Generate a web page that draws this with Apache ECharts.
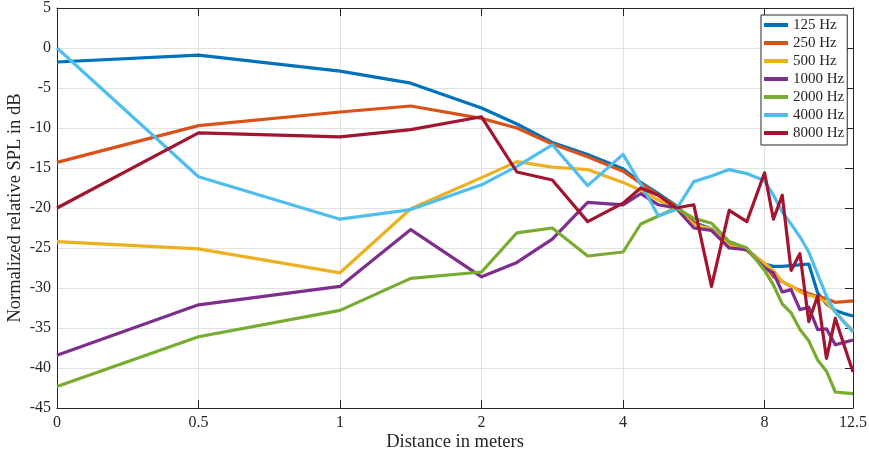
<!DOCTYPE html>
<html>
<head>
<meta charset="utf-8">
<script src="https://cdn.jsdelivr.net/npm/echarts@6/dist/echarts.min.js"></script>
<style>
html,body{margin:0;padding:0;background:#fff;}
#chart{width:869px;height:458px;}
</style>
</head>
<body>
<div id="chart"></div>
<script>
// Distances (m) of measurement points
const distances = [0, 0.5, 1, 1.5, 2, 2.5, 3, 3.5, 4, 4.5, 5, 5.5, 6, 6.5, 7, 7.5, 8,
  8.5, 9, 9.5, 10, 10.5, 11, 11.5, 12, 12.5, 13];

// Tick labels on the octave-like distance axis
const xTickLabels = ['0', '0.5', '1', '2', '4', '8', '12.5'];
const xTickDistances = [0, 0.5, 1, 2, 4, 8, 13];

const seriesNames = ['125 Hz', '250 Hz', '500 Hz', '1000 Hz', '2000 Hz', '4000 Hz', '8000 Hz'];

const spl125 = [-1.75, -0.9, -2.9, -4.4, -7.5, -9.5, -11.8, -13.3, -15.1, -16.8, -18.2, -19.7, -21.8, -22.6, -24.5, -25.2, -27.0,
  -27.3, -27.3, -27.2, -27.1, -27.0, -30.6, -32.0, -32.8, -33.2, -33.5];
const spl250 = [-14.3, -9.7, -8.0, -7.25, -8.8, -10.0, -12.0, -13.6, -15.4, -16.9, -18.4, -19.8, -21.9, -22.8, -24.6, -25.3, -27.0,
  -28.6, -29.2, -29.8, -30.3, -30.7, -31.1, -31.3, -31.8, -31.7, -31.6];
const spl500 = [-24.2, -25.1, -28.1, -20.1, -16.2, -14.2, -14.9, -15.2, -16.8, -17.8, -19.0, -20.1, -22.1, -22.6, -24.7, -25.3, -26.9,
  -27.8, -29.2, -29.7, -30.5, -30.9, -31.2, -31.8, -33.0, -34.2, -35.3];
const spl1000 = [-38.4, -32.1, -29.8, -22.7, -28.6, -26.8, -23.9, -19.3, -19.6, -18.2, -19.6, -20.0, -22.5, -22.8, -25.0, -25.2, -27.5,
  -28.1, -30.5, -30.2, -32.7, -32.4, -35.2, -35.1, -37.1, -36.8, -36.5];
const spl2000 = [-42.3, -36.1, -32.8, -28.8, -28.0, -23.1, -22.5, -26.0, -25.5, -22.0, -21.0, -20.0, -21.3, -21.9, -24.2, -25.0, -27.8,
  -29.6, -32.0, -33.1, -35.2, -36.6, -39.0, -40.4, -43.0, -43.1, -43.2];
const spl4000 = [0, -16.1, -21.4, -20.2, -17.1, -14.8, -12.1, -17.2, -13.3, -17.0, -21.0, -20.2, -16.7, -16.0, -15.2, -15.7, -16.6,
  -18.4, -20.5, -22.0, -23.6, -25.5, -28.3, -31.0, -33.0, -34.3, -35.5];
const spl8000 = [-20.0, -10.6, -11.1, -10.2, -8.6, -15.5, -16.5, -21.7, -19.4, -17.5, -18.4, -20.0, -19.6, -29.8, -20.3, -21.7, -15.6,
  -21.4, -18.4, -27.8, -25.7, -34.2, -31.0, -38.8, -33.8, -37.2, -40.5];

const allSeries = [spl125, spl250, spl500, spl1000, spl2000, spl4000, spl8000];
const colors = ['#0072BD', '#D95319', '#EDB120', '#7E2F8E', '#77AC30', '#4DBEEE', '#A2142F'];

// Axis scale: linear within each octave (0..0.5..1 then 1..2..4..8..16)
function axisPos(d) {
  if (d <= 1) return 2 * d;
  const k = Math.floor(Math.log2(d));
  const base = Math.pow(2, k);
  return k + 2 + (d - base) / base;
}
const tickPos = xTickDistances.map(axisPos);
const xMax = axisPos(13);

function labelFor(v) {
  for (let i = 0; i < tickPos.length; i++) {
    if (Math.abs(tickPos[i] - v) < 1e-6) return xTickLabels[i];
  }
  return '';
}

const FONT = 'Liberation Serif';
const INK = '#262626';
const GRID = '#e2e2e2';

const chart = echarts.init(document.getElementById('chart'), null, {renderer: 'canvas'});

const option = {
  animation: false,
  backgroundColor: '#fff',
  color: colors,
  grid: {left: 57, right: 16, top: 8, bottom: 50, containLabel: false, outerBoundsMode: 'none'},
  legend: {
    orient: 'vertical',
    left: 761,
    top: 15,
    padding: [1, 3, 3, 3],
    backgroundColor: '#fff',
    borderColor: INK,
    borderWidth: 1,
    borderRadius: 0,
    itemWidth: 24,
    itemHeight: 4,
    itemGap: 0,
    icon: 'rect',
    data: seriesNames,
    textStyle: {fontFamily: FONT, fontSize: 15, color: INK, lineHeight: 18, width: 50}
  },
  xAxis: [{
    type: 'value',
    min: 0,
    max: xMax,
    interval: 1,
    position: 'bottom',
    name: 'Distance in meters',
    nameLocation: 'middle',
    nameGap: 25,
    nameMoveOverlap: false,
    nameTextStyle: {fontFamily: FONT, fontSize: 18.5, color: INK},
    axisLine: {show: true, onZero: false, lineStyle: {color: INK, width: 1}},
    axisTick: {show: true, inside: true, length: 8, lineStyle: {color: INK}},
    axisLabel: {fontFamily: FONT, fontSize: 16, color: INK, margin: 7, formatter: labelFor, showMaxLabel: true},
    splitLine: {show: true, lineStyle: {color: GRID, width: 1}}
  }, {
    type: 'value',
    min: 0,
    max: xMax,
    interval: 1,
    position: 'top',
    axisLine: {show: true, onZero: false, lineStyle: {color: INK, width: 1}},
    axisTick: {show: true, inside: true, length: 8, lineStyle: {color: INK}},
    axisLabel: {show: false},
    splitLine: {show: false}
  }],
  yAxis: [{
    type: 'value',
    min: -45,
    max: 5,
    interval: 5,
    position: 'left',
    name: 'Normalized relative SPL in dB',
    nameLocation: 'middle',
    nameGap: 32,
    nameMoveOverlap: false,
    nameTextStyle: {fontFamily: FONT, fontSize: 18.5, color: INK},
    axisLine: {show: true, onZero: false, lineStyle: {color: INK, width: 1}},
    axisTick: {show: false},
    axisLabel: {fontFamily: FONT, fontSize: 16, color: INK, margin: 6},
    splitLine: {show: true, lineStyle: {color: GRID, width: 1}}
  }, {
    type: 'value',
    min: -45,
    max: 5,
    interval: 5,
    position: 'right',
    axisLine: {show: true, onZero: false, lineStyle: {color: INK, width: 1}},
    axisTick: {show: true, inside: true, length: 8, lineStyle: {color: INK}},
    axisLabel: {show: false},
    splitLine: {show: false}
  }],
  series: seriesNames.map((name, i) => ({
    name: name,
    type: 'line',
    xAxisIndex: 0,
    yAxisIndex: 0,
    symbol: 'none',
    showSymbol: false,
    lineStyle: {width: 3.2, color: colors[i], join: 'round'},
    itemStyle: {color: colors[i]},
    emphasis: {disabled: true},
    data: distances.map((d, j) => [axisPos(d), allSeries[i][j]])
  }))
};

chart.setOption(option);
</script>
</body>
</html>
